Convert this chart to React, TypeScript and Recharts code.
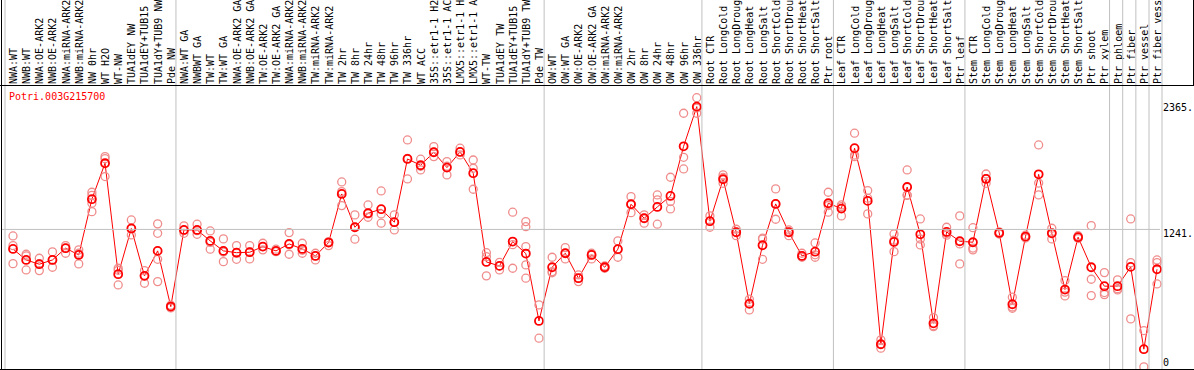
import { ComposedChart, Line, XAxis, YAxis } from 'recharts'

const geneId = 'Potri.003G215700'

const categories = [
  'NWA:WT', 'NWB:WT', 'NWA:OE-ARK2', 'NWB:OE-ARK2', 'NWA:miRNA-ARK2', 'NWB:miRNA-ARK2',
  'NW 0hr', 'WT H2O', 'WT-NW', 'TUA1dEY NW', 'TUA1dEY+TUB15 NW', 'TUA1dY+TUB9 NW', 'Pde NW',
  'NWA:WT GA', 'NWBWT GA', 'TW:WT', 'TW:WT GA', 'NWA:OE-ARK2 GA', 'NWB:OE-ARK2 GA',
  'TW:OE-ARK2', 'TW:OE-ARK2 GA', 'NWA:miRNA-ARK2 GA', 'NWB:miRNA-ARK2 GA', 'TW:miRNA-ARK2',
  'TW:miRNA-ARK2 GA', 'TW 2hr', 'TW 8hr', 'TW 24hr', 'TW 48hr', 'TW 96hr', 'TW 336hr', 'WT ACC',
  '35S::etr1-1 H2O', '35S::etr1-1 ACC', 'LMX5::etr1-1 H2O', 'LMX5::etr1-1 ACC', 'WT-TW',
  'TUA1dEY TW', 'TUA1dEY+TUB15 TW', 'TUA1dY+TUB9 TW', 'Pde TW',
  'OW:WT', 'OW:WT GA', 'OW:OE-ARK2', 'OW:OE-ARK2 GA', 'OW:miRNA-ARK2', 'OW:miRNA-ARK2 GA',
  'OW 2hr', 'OW 8hr', 'OW 24hr', 'OW 48hr', 'OW 96hr', 'OW 336hr',
  'Root CTR', 'Root LongCold', 'Root LongDrought', 'Root LongHeat', 'Root LongSalt',
  'Root ShortCold', 'Root ShortDrought', 'Root ShortHeat', 'Root ShortSalt', 'Ptr root',
  'Leaf CTR', 'Leaf LongCold', 'Leaf LongDrought', 'Leaf LongHeat', 'Leaf LongSalt',
  'Leaf ShortCold', 'Leaf ShortDrought', 'Leaf ShortHeat', 'Leaf ShortSalt', 'Ptr leaf',
  'Stem CTR', 'Stem LongCold', 'Stem LongDrought', 'Stem LongHeat', 'Stem LongSalt',
  'Stem ShortCold', 'Stem ShortDrought', 'Stem ShortHeat', 'Stem ShortSalt', 'Ptr shoot',
  'Ptr xylem', 'Ptr phloem', 'Ptr fiber', 'Ptr vessel', 'Ptr fiber vessel',
]

// mean expression per sample
const means = [
  1062, 964, 926, 964, 1069, 1009, 1506, 1827, 837, 1245, 822, 1045, 548,
  1232, 1232, 1134, 1045, 1029, 1033, 1083, 1045, 1107, 1062, 1000, 1119, 1553, 1256, 1381,
  1417, 1301, 1865, 1809, 1925, 1788, 1928, 1738, 946, 911, 1128, 1021, 420,
  899, 1024, 801, 1009, 899, 1060, 1461, 1336, 1437, 1535, 1978, 2332,
  1310, 1684, 1211, 572, 1095, 1464, 1211, 1000, 1038, 1470,
  1422, 1961, 1491, 212, 1125, 1615, 1193, 399, 1214, 1131,
  1122, 1687, 1205, 569, 1172, 1728, 1202, 700, 1167, 899, 730,
  730, 902, 168, 881,
]

// individual replicates per sample
const replicates = [
  [1178, 1092, 931], [1015, 1000, 875], [979, 930, 869], [1036, 964, 899], [1092, 1069, 1024],
  [1054, 1024, 929], [1568, 1541, 1470, 1395], [1886, 1868, 1708], [890, 872, 741],
  [1321, 1241, 1187], [869, 822, 756], [1286, 1202, 970, 771], [560, 536],
  [1268, 1228, 1202], [1283, 1225, 1193], [1223, 1120, 1060], [1152, 1035, 949],
  [1092, 1025, 970], [1092, 1035, 973], [1113, 1083, 1054], [1060, 1040, 1038],
  [1208, 1100, 1015], [1113, 1050, 1024], [1024, 1000, 964], [1128, 1119, 1092],
  [1660, 1574, 1449], [1366, 1256, 1149], [1455, 1375, 1345], [1580, 1375, 1292],
  [1366, 1301, 1232], [2035, 1870, 1687], [1863, 1800, 1767], [1975, 1925, 1886],
  [1841, 1800, 1723], [1961, 1928, 1901], [1856, 1782, 1595], [1029, 993, 822],
  [943, 911, 875], [1390, 1100, 890], [1306, 1261, 1083, 920, 801], [563, 266],
  [988, 860, 850], [1074, 1024, 973], [830, 801, 771], [1024, 1009, 973], [910, 899, 890],
  [1134, 1060, 988], [1529, 1461, 1386], [1366, 1336, 1292], [1544, 1500, 1283],
  [1702, 1485, 1419], [2273, 1880, 1776], [2412, 2320, 2273],
  [1357, 1310, 1256], [1723, 1700, 1648], [1238, 1211, 1181], [614, 580, 518],
  [1158, 1150, 970], [1598, 1464, 1327], [1232, 1211, 1181], [1024, 1000, 988],
  [1116, 1010, 988], [1568, 1450, 1390],
  [1455, 1440, 1357], [2095, 1900, 1886], [1583, 1515, 1375], [251, 212, 177],
  [1196, 1140, 1038], [1767, 1544, 1540], [1330, 1151, 1098], [450, 378, 369],
  [1256, 1200, 1185], [1357, 1107, 929],
  [1252, 1070, 1054], [1731, 1690, 1648], [1215, 1205, 1195], [632, 545, 533],
  [1185, 1172, 1160], [1990, 1650, 1544], [1247, 1207, 1152], [780, 677, 643],
  [1180, 1167, 1155], [1270, 792, 646], [851, 673, 655],
  [786, 707, 697], [1330, 940, 438], [334, 10], [964, 940, 750],
]

const yTicks = [0, 1241, 2365]
const yMax = 2525
// first sample of each block separated by a grey rule
const groupStarts = [0, 13, 41, 53, 63, 73, 84, 85, 86, 87]

const repKeys = ['r0', 'r1', 'r2', 'r3', 'r4']

const data = categories.map((name, i) => {
  const row: Record<string, string | number | null> = { name, mean: means[i] }
  repKeys.forEach((k, j) => {
    row[k] = replicates[i][j] ?? null
  })
  return row
})

const FONT = '"DejaVu Sans Mono", monospace'
const GRID = '#c0c0c0'
const RED = '#ff0000'
const PINK = '#f08c8c'

function CategoryTick(props: any) {
  const { x, payload } = props
  const half = payload.offset || 6.5
  const rules: number[] = []
  if (groupStarts.includes(payload.index)) rules.push(x - half - 1.5)
  if (payload.index === categories.length - 1) rules.push(x + half - 1.5)
  const tx = x + 4
  const ty = 84
  return (
    <g>
      {rules.map((lx) => (
        <line key={lx} x1={lx} x2={lx} y1={0} y2={369} stroke={GRID} strokeWidth={1} />
      ))}
      <text
        x={tx}
        y={ty}
        transform={`rotate(-90 ${tx} ${ty})`}
        fontFamily={FONT}
        fontSize={10}
        fill="#000"
        textAnchor="start"
      >
        {payload.value}
      </text>
    </g>
  )
}

function ValueTick(props: any) {
  const { x, y, payload } = props
  const v = payload.value
  const center = v === 0 ? y - 6 : y + 4
  return (
    <g>
      {v === 1241 && <line x1={2} x2={1160} y1={y + 0.5} y2={y + 0.5} stroke={GRID} />}
      <text x={x} y={center + 3.6} fontFamily={FONT} fontSize={10} fill="#000" textAnchor="start">
        {v === 0 ? '0' : `${v}.`}
      </text>
    </g>
  )
}

function RepDot(props: any) {
  const { cx, cy, value, index, dataKey } = props
  if (value == null || cy == null || isNaN(cy)) return <g key={`${dataKey}-${index}`} />
  return (
    <circle key={`${dataKey}-${index}`} cx={cx} cy={cy} r={4} fill="none" stroke={PINK} strokeWidth={1.3} />
  )
}

function MeanDot(props: any) {
  const { cx, cy, index } = props
  return <circle key={`m-${index}`} cx={cx} cy={cy} r={4} fill="none" stroke={RED} strokeWidth={1.8} />
}

export default function App() {
  return (
    <div style={{ position: 'absolute', left: 0, top: 0, width: 1194, height: 370, background: '#fff' }}>
      <ComposedChart width={1194} height={370} data={data} margin={{ top: 0, right: 0, bottom: 2, left: 13 }}>
        <XAxis
          dataKey="name"
          orientation="top"
          height={85}
          interval={0}
          tickLine={false}
          axisLine={false}
          tick={<CategoryTick />}
        />
        <YAxis
          orientation="right"
          width={37}
          domain={[0, yMax]}
          ticks={yTicks}
          interval={0}
          tickLine={false}
          axisLine={false}
          tickSize={0}
          tickMargin={6}
          tick={<ValueTick />}
        />
        {repKeys.map((k) => (
          <Line
            key={k}
            dataKey={k}
            stroke="none"
            dot={RepDot}
            activeDot={false}
            isAnimationActive={false}
            legendType="none"
          />
        ))}
        <Line
          dataKey="mean"
          stroke={RED}
          strokeWidth={1}
          dot={MeanDot}
          activeDot={false}
          isAnimationActive={false}
        />
      </ComposedChart>
      <svg
        width={1194}
        height={370}
        style={{ position: 'absolute', left: 0, top: 0, pointerEvents: 'none' }}
      >
        <line x1={0} x2={1194} y1={85.5} y2={85.5} stroke="#000" />
        <line x1={1.5} x2={1.5} y1={0} y2={370} stroke="#000" />
        <line x1={0} x2={1194} y1={369.5} y2={369.5} stroke="#000" />
        <line x1={1193.5} x2={1193.5} y1={0} y2={85} stroke="#000" />
        <text x={9} y={100} fontFamily={FONT} fontSize={10} fill={RED}>
          {geneId}
        </text>
      </svg>
    </div>
  )
}
